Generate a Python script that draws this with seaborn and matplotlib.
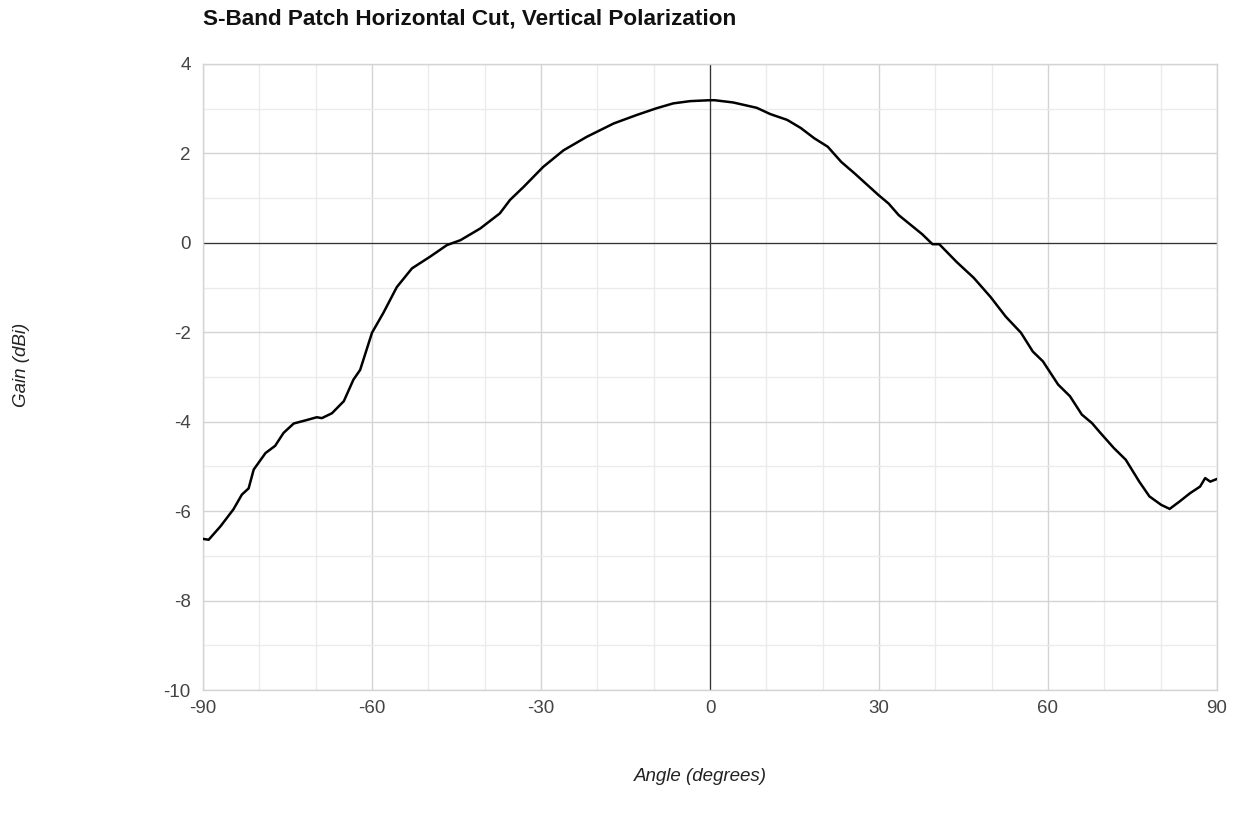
import matplotlib
matplotlib.use("Agg")
import matplotlib.pyplot as plt
from matplotlib.ticker import MultipleLocator
import seaborn as sns
import pandas as pd

angle_deg = [-90.0, -89.0, -86.9, -84.6, -83.1, -81.9, -81.0, -78.9, -77.2, -75.7,
             -73.9, -71.8, -69.8, -68.9, -67.1, -65.0, -63.3, -62.1, -60.0, -58.0,
             -55.6, -52.9, -49.7, -46.7, -44.3, -40.8, -37.3, -35.5, -33.1, -29.6,
             -26.0, -21.9, -17.1, -13.0, -9.5, -6.5, -3.5, 0.0, 0.8, 4.1,
             8.3, 10.7, 13.7, 16.1, 18.5, 20.9, 23.3, 25.7, 29.9, 31.7,
             33.5, 37.7, 39.5, 40.7, 43.8, 46.8, 49.8, 52.5, 55.2, 57.3,
             59.1, 61.8, 63.9, 66.0, 67.8, 69.3, 71.7, 73.8, 76.2, 78.0,
             80.1, 81.6, 83.4, 85.2, 87.0, 87.9, 88.8, 90.0]
gain_dbi = [-6.62, -6.64, -6.34, -5.96, -5.63, -5.49, -5.07, -4.70, -4.54, -4.25,
            -4.04, -3.97, -3.90, -3.92, -3.81, -3.54, -3.06, -2.84, -2.01, -1.57,
            -0.99, -0.57, -0.31, -0.05, 0.06, 0.32, 0.66, 0.96, 1.25, 1.70,
            2.07, 2.37, 2.67, 2.86, 3.01, 3.12, 3.17, 3.19, 3.19, 3.14,
            3.02, 2.88, 2.75, 2.57, 2.34, 2.15, 1.81, 1.55, 1.07, 0.88,
            0.62, 0.19, -0.03, -0.03, -0.43, -0.78, -1.21, -1.65, -2.01, -2.43,
            -2.65, -3.17, -3.43, -3.84, -4.03, -4.25, -4.59, -4.85, -5.34, -5.67,
            -5.86, -5.95, -5.78, -5.60, -5.45, -5.26, -5.34, -5.28]

title = "S-Band Patch Horizontal Cut, Vertical Polarization"
x_label = "Angle (degrees)"
y_label = "Gain (dBi)"

df = pd.DataFrame({"angle": angle_deg, "gain": gain_dbi})

sns.set_style("white")
plt.rcParams["font.family"] = ["Liberation Sans", "DejaVu Sans"]
plt.rcParams["axes.unicode_minus"] = False

fig = plt.figure(figsize=(12.37, 8.22), dpi=100)
ax = fig.add_axes([203 / 1237, 132 / 822, 1014 / 1237, 626 / 822])

ax.set_xlim(-90, 90)
ax.set_ylim(-10, 4)
ax.xaxis.set_major_locator(MultipleLocator(30))
ax.xaxis.set_minor_locator(MultipleLocator(10))
ax.yaxis.set_major_locator(MultipleLocator(2))
ax.yaxis.set_minor_locator(MultipleLocator(1))
ax.grid(which="minor", color="#ebebeb", linewidth=1.0, zorder=0)
ax.grid(which="major", color="#d4d4d4", linewidth=1.0, zorder=0)
ax.set_axisbelow(True)
ax.axhline(0, color="#333333", linewidth=0.9, zorder=1)
ax.axvline(0, color="#333333", linewidth=0.9, zorder=1)

sns.lineplot(data=df, x="angle", y="gain", ax=ax, color="black",
             linewidth=1.8, zorder=3, sort=False)

for s in ax.spines.values():
    s.set_color("#d4d4d4")
    s.set_linewidth(1.0)

ax.tick_params(which="both", length=0, labelsize=13.5, colors="#444444", pad=9)
ax.tick_params(axis="x", pad=7)
ax.set_xlabel("")
ax.set_ylabel("")

fig.text(203 / 1237, 1 - 19 / 822, title, fontsize=16.2, fontweight="bold",
         color="#111111", ha="left", va="center")
fig.text(700 / 1237, 1 - 776 / 822, x_label, fontsize=13.5, style="italic",
         color="#222222", ha="center", va="center")
fig.text(22 / 1237, 1 - 365 / 822, y_label, fontsize=13.5, style="italic",
         color="#222222", ha="center", va="center", rotation=90)

fig.savefig("out.png", dpi=100, facecolor="white")
